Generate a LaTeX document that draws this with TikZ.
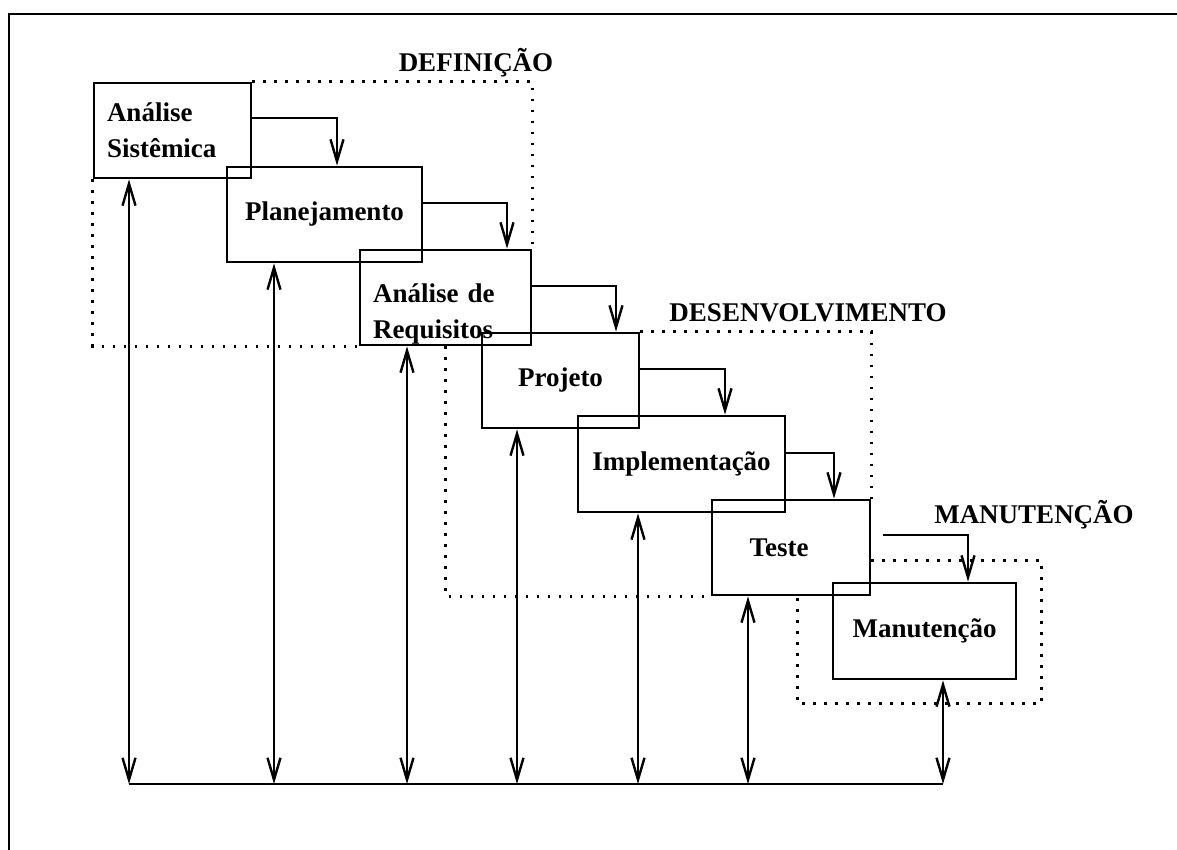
\documentclass[tikz,border=0pt]{standalone}
\usepackage{fontspec}
\setmainfont{Liberation Serif}
\usetikzlibrary{arrows.meta}

\begin{document}
\begin{tikzpicture}[x=0.5pt, y=-0.5pt,
    stage/.style={draw, line width=1.4pt, inner sep=0pt, minimum height=47.5pt,
        font=\bfseries\fontsize{13.5}{18}\selectfont},
    phaselabel/.style={inner sep=0pt, font=\bfseries\fontsize{13.5}{18}\selectfont},
    phase/.style={line width=1.5pt, dash pattern=on 1.4pt off 4.1pt},
    flow/.style={line width=1.2pt, -{Straight Barb[length=11pt,width=6.5pt]}},
    duplex/.style={line width=1.2pt,
        {Straight Barb[length=11pt,width=6.5pt]}-{Straight Barb[length=11pt,width=6.5pt]}}]

    \useasboundingbox (0,0) rectangle (1177,850);

    % Draw the frame
    \draw[line width=1.4pt] (9,850) -- (9,14) -- (1177,14);

    % Draw the stages
    \node[stage, minimum width=78.5pt, text width=65.5pt, inner xsep=6.5pt, align=left] (sis) at (172.5,130.5) {Análise\\Sistêmica};
    \node[stage, minimum width=97.5pt] (plan) at (324.5,214.5) {Planejamento};
    \node[stage, minimum width=85.5pt, text width=72.5pt, inner xsep=6.5pt, align=left,
        text height=25.5pt, text depth=21pt] (req) at (445.5,297.5) {Análise de\\Requisitos};
    \node[stage, minimum width=78.5pt] (proj) at (560.5,380.5) {Projeto};
    \node[stage, minimum width=103.5pt, minimum height=48pt] (impl) at (681.5,464) {Implementação};
    \node[stage, minimum width=79pt] (teste) at (791,547.5) {\hspace*{-12pt}Teste};
    \node[stage, minimum width=91.5pt, minimum height=48pt] (man) at (924.5,631) {Manutenção};

    % Phase labels
    \node[phaselabel] (deflbl) at (476,63) {DEFINIÇÃO};
    \node[phaselabel] (devlbl) at (808,313) {DESENVOLVIMENTO};
    \node[phaselabel] (manlbl) at (1034,515) {MANUTENÇÃO};

    % Draw the phase borders
    \draw[phase] (sis.north east) -- (sis.north east -| req.east) -- (req.north east);
    \draw[phase] (sis.south west) -- (sis.south west |- req.south) -- (req.south west);
    \draw[phase] (proj.north east) -- (proj.north east -| teste.east) -- (teste.north east);
    \draw[phase] (req.south) -- (req.south |- teste.south) -- (teste.south west);
    \draw[phase] ([yshift=-6.25pt]teste.east) -| ([xshift=12pt,yshift=-11.5pt]man.south east)
        -| ([xshift=3pt]teste.south);

    % Arrows from one stage to the next
    \draw[flow] ([yshift=6.25pt]sis.east) -| ([xshift=6.25pt]plan.north);
    \draw[flow] ([yshift=5.75pt]plan.east) -| ([xshift=30.75pt]req.north);
    \draw[flow] ([yshift=5.75pt]req.east) -| ([xshift=27.75pt]proj.north);
    \draw[flow] ([yshift=5.75pt]proj.east) -| ([xshift=21.75pt]impl.north);
    \draw[flow] ([yshift=5.5pt]impl.east) -| ([xshift=21.5pt]teste.north);
    \draw[flow] ([xshift=6pt,yshift=6.25pt]teste.east) -| ([xshift=21.75pt]man.north);

    % Arrows down to the common line
    \coordinate (bus) at (0,784);
    \foreach \n/\dx in {sis/-21.75, plan/-25.25, req/-19.25, proj/-21.75, impl/-21.75, teste/-21.5, man/9.25} {
        \coordinate (top\n) at ([xshift=\dx pt]\n.south);
        \draw[duplex] (top\n) -- (top\n |- bus);
    }
    \draw[line width=1.2pt] (topsis |- bus) -- (topman |- bus);
\end{tikzpicture}
\end{document}
